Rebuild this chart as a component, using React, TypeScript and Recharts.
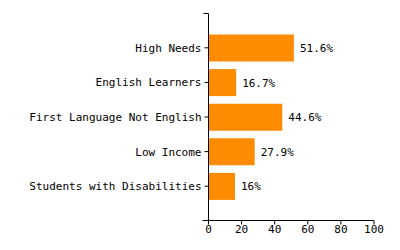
import { Bar, BarChart, LabelList, XAxis, YAxis } from 'recharts';

const categories = [
  'High Needs',
  'English Learners',
  'First Language Not English',
  'Low Income',
  'Students with Disabilities',
];
const values = [51.6, 16.7, 44.6, 27.9, 16];
const xTicks = [0, 20, 40, 60, 80, 100];

const data = categories.map((name, i) => ({ name, value: values[i] }));

const FONT = '"DejaVu Sans Mono", "Liberation Mono", monospace';
const AXIS_X = 208.5;
const TOP = 13.5;
const BOTTOM = 220.5;

export default function App() {
  return (
    <div style={{ position: 'absolute', left: 0, top: 0, width: 400, height: 250, background: '#fff' }}>
      <BarChart
        width={400}
        height={250}
        data={data}
        layout="vertical"
        margin={{ top: TOP, right: 400 - 374, bottom: 0, left: 0 }}
      >
        <XAxis
          type="number"
          domain={[0, 100]}
          ticks={xTicks}
          interval={0}
          height={250 - BOTTOM}
          stroke="#000"
          tickSize={4}
          tickMargin={1}
          tick={{ fill: '#000', fontSize: 11, fontFamily: FONT }}
        />
        <YAxis
          type="category"
          dataKey="name"
          width={AXIS_X}
          padding={{ top: 17, bottom: 17 }}
          stroke="#000"
          tickSize={4}
          tickMargin={3}
          interval={0}
          tick={{ fill: '#000', fontSize: 11, fontFamily: FONT }}
        />
        <Bar dataKey="value" fill="#ff8c00" barSize={27} isAnimationActive={false}>
          <LabelList
            dataKey="value"
            position="right"
            offset={6}
            formatter={(v: number) => `${v}%`}
            style={{ fill: '#000', fontSize: 11, fontFamily: FONT }}
          />
        </Bar>
      </BarChart>
      <svg
        width={400}
        height={250}
        style={{ position: 'absolute', left: 0, top: 0, pointerEvents: 'none' }}
      >
        <line x1={AXIS_X - 5} y1={TOP} x2={AXIS_X} y2={TOP} stroke="#000" />
        <line x1={AXIS_X - 6} y1={BOTTOM} x2={AXIS_X} y2={BOTTOM} stroke="#000" />
      </svg>
    </div>
  );
}
